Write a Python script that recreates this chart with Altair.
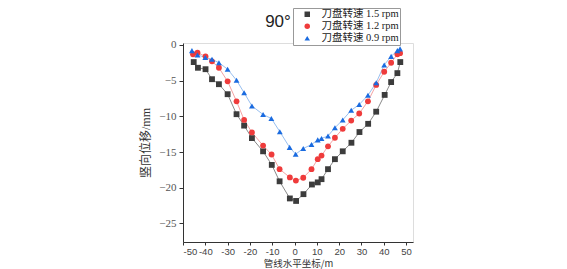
import altair as alt
import pandas as pd

series_names = ["刀盘转速 1.5 rpm", "刀盘转速 1.2 rpm", "刀盘转速 0.9 rpm"]
title_text = ["90°"]

x_15 = [-45.2, -43.3, -39.9, -37, -33.9, -30, -26, -22.6, -19.1, -14.1, -10.2, -6.7, -2.1, 0.7, 4.0,
        7.8, 10.4, 12.1, 15, 18.1, 21.6, 25.5, 29.1, 33, 36.6, 40.4, 43.3, 46.1, 47.4]
y_15 = [-2.4, -3.2, -3.4, -4.8, -5.5, -6.9, -9.7, -11.3, -13.05, -14.9, -16.8, -19.1, -21.5, -21.85, -20.9,
        -19.55, -19.25, -18.8, -17.4, -16.0, -14.9, -13.7, -12.2, -11.05, -9.35, -7.0, -5.2, -3.95, -2.4]

x_12 = [-45.5, -43.5, -39.9, -37, -33.9, -30, -26, -22.6, -19.1, -14.1, -10.3, -6.7, -2.1, 0.6, 3.9,
        7.6, 10.4, 12.1, 15, 18.1, 21.6, 25.4, 29, 32.9, 36.6, 40.2, 43.3, 46.1, 47.3]
y_12 = [-1.3, -1.1, -1.6, -2.3, -3.2, -5.1, -7.9, -10.5, -12.25, -14.1, -15.35, -17.4, -18.55, -19.0, -18.6,
        -17.4, -16.0, -15.5, -14.2, -13.0, -11.75, -10.6, -9.6, -7.9, -5.6, -3.76, -2.5, -1.3, -1.15]

x_09 = [-46, -43.5, -40, -37, -33.9, -30, -26, -22.6, -19.1, -14.1, -10.4, -6.6, -2.2, 0.5, 3.9,
        7.6, 10.4, 12.1, 15, 18.1, 21.6, 25.4, 29, 32.9, 36.6, 40.2, 43.3, 46.1, 47.3]
y_09 = [-0.8, -1.4, -1.75, -2.0, -2.5, -3.4, -4.95, -6.7, -8.55, -9.75, -10.3, -12.15, -14.35, -15.3, -14.5,
        -13.95, -13.3, -13.1, -12.75, -11.6, -10.5, -9.15, -8.35, -7.05, -5.3, -2.8, -1.6, -0.8, -0.55]

x_ticks = [-50, -40, -30, -20, -10, 0, 10, 20, 30, 40, 50]
y_ticks = [0, -5, -10, -15, -20, -25]

rows = []
for name, xs, ys in zip(series_names, [x_15, x_12, x_09], [y_15, y_12, y_09]):
    for xv, yv in zip(xs, ys):
        rows.append({"series": name, "line_series": name, "x": xv, "y": yv})
df = pd.DataFrame(rows)

marker_colors = ["#3c3c3c", "#ef3b3b", "#1a6be0"]
line_colors = ["#8a8a8a", "#f4a3a3", "#98bff0"]
shapes = ["square", "circle", "triangle-up"]

xenc = alt.X("x:Q", scale=alt.Scale(domain=[-50, 53.1], nice=False, zero=False),
             axis=alt.Axis(values=x_ticks, title="管线水平坐标/m", labelOverlap=False,
                           labelExpr="replace(datum.label, '−', '-')",
                           labelFont="Liberation Sans", labelFontSize=9.5, labelColor="#444",
                           titleFont="Noto Sans CJK SC", titleFontSize=9.5, titleFontWeight="normal",
                           titleColor="#333", titlePadding=3, tickSize=3, labelPadding=1,
                           domainColor="#333", tickColor="#333", grid=False))
yenc = alt.Y("y:Q", scale=alt.Scale(domain=[-27.6, 0.27], nice=False, zero=False),
             axis=alt.Axis(values=y_ticks, title="竖向位移/mm", labelOverlap=False,
                           labelFont="Liberation Serif", labelFontSize=11, labelColor="#555",
                           titleFont="Liberation Serif, Noto Sans CJK SC", titleFontSize=12,
                           titleFontWeight="normal", titleColor="#333", titlePadding=6,
                           tickSize=4, labelPadding=3,
                           domainColor="#333", tickColor="#333", grid=False))

legend_cfg = alt.Legend(title=None, orient="none", legendX=110, legendY=-35,
                        strokeColor="#999", fillColor="white", padding=1,
                        labelFont="Liberation Serif, Noto Sans CJK SC",
                        labelFontSize=10.5, labelColor="#222", rowPadding=1,
                        symbolSize=30, labelOffset=9, symbolOffset=8)

lines = alt.Chart(df).mark_line(strokeWidth=1).encode(
    x=xenc, y=yenc,
    stroke=alt.Stroke("line_series:N", scale=alt.Scale(domain=series_names, range=line_colors),
                      legend=None),
    detail="line_series:N",
)

points = alt.Chart(df).mark_point(filled=True, opacity=1, size=34).encode(
    x=xenc, y=yenc,
    color=alt.Color("series:N", scale=alt.Scale(domain=series_names, range=marker_colors),
                    legend=legend_cfg),
    shape=alt.Shape("series:N", scale=alt.Scale(domain=series_names, range=shapes),
                    legend=legend_cfg),
)

title_df = pd.DataFrame({"t": title_text})
title_mark = alt.Chart(title_df).mark_text(
    font="Liberation Sans", fontSize=17, color="#222", align="center", baseline="alphabetic"
).encode(text="t:N", x=alt.value(95), y=alt.value(-16))

chart = alt.layer(lines, points, title_mark).resolve_scale(
    color="independent", stroke="independent", shape="independent"
).properties(
    width=230, height=199,
    autosize=alt.AutoSizeParams(type="none"),
    padding={"left": 175, "top": 35, "right": 146, "bottom": 27},
).configure_view(stroke=None).configure(background="white")

chart.save("out.html", embed_options={"renderer": "svg", "actions": False})
